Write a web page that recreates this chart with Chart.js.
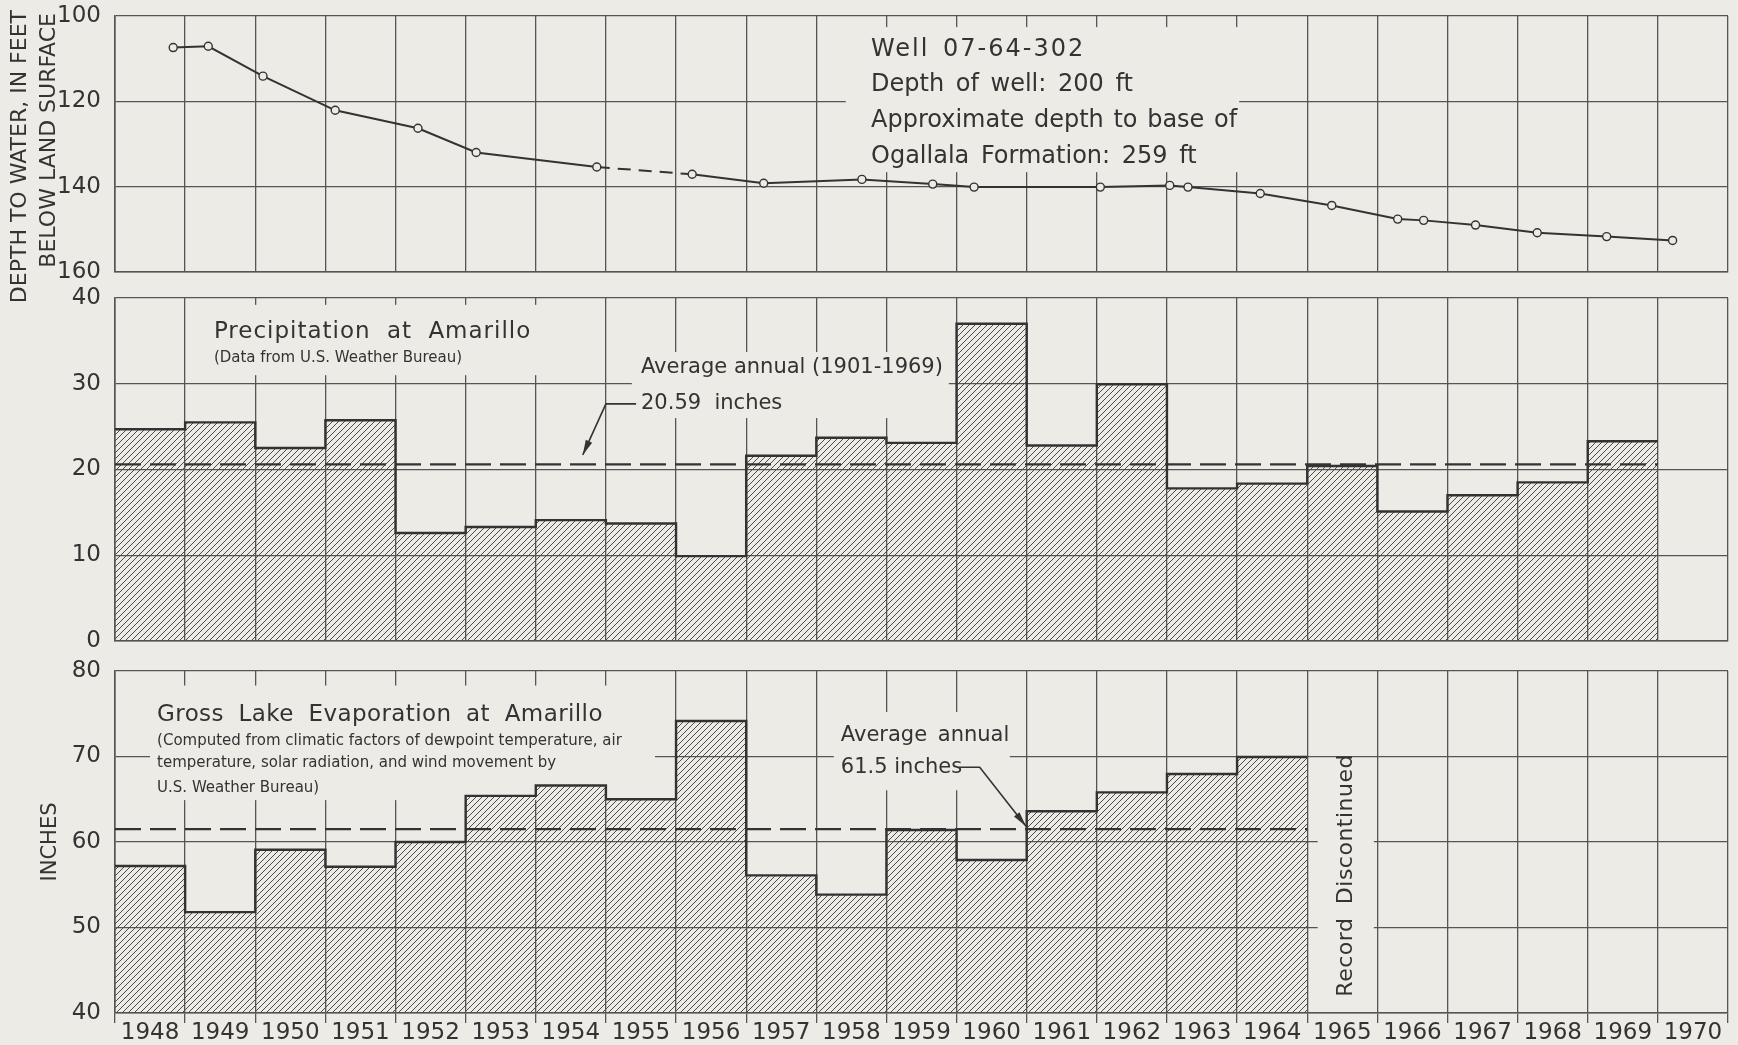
<!DOCTYPE html>
<html>
<head>
<meta charset="utf-8">
<script src="https://cdn.jsdelivr.net/npm/chart.js@4.4.1/dist/chart.umd.min.js"></script>
<style>
  html, body { margin: 0; padding: 0; background: #edebe6; }
  body { width: 1738px; height: 1045px; position: relative; overflow: hidden; }
  .panel { position: absolute; left: 0; width: 1738px; }
  #p1 { top: 0; height: 320px; }
  #p2 { top: 280px; height: 380px; }
  #p3 { top: 655px; height: 390px; }
</style>
</head>
<body>
<div class="panel" id="p1"><canvas id="wellChart"></canvas></div>
<div class="panel" id="p2"><canvas id="precipChart"></canvas></div>
<div class="panel" id="p3"><canvas id="evapChart"></canvas></div>
<script>
// --- data ---
const years = ['1948', '1949', '1950', '1951', '1952', '1953', '1954', '1955', '1956', '1957', '1958', '1959',
               '1960', '1961', '1962', '1963', '1964', '1965', '1966', '1967', '1968', '1969', '1970'];

// well 07-64-302 measurements (decimal year, depth in ft)
const wellYears = [1948.83, 1949.33, 1950.11, 1951.14, 1952.32, 1953.15, 1954.87, 1956.23, 1957.25, 1958.65,
                   1959.66, 1960.25, 1962.05, 1963.04, 1963.30, 1964.33, 1965.35, 1966.29, 1966.66, 1967.40,
                   1968.28, 1969.27, 1970.21];
const wellDepth = [107.4, 107.1, 114.1, 122.1, 126.3, 132.0, 135.4, 137.1, 139.2, 138.3,
                   139.4, 140.1, 140.1, 139.7, 140.1, 141.6, 144.4, 147.6, 147.9, 149.0,
                   150.8, 151.7, 152.6];
const wellDashedAfter = 6; // segment 1954 -> 1956 is dashed

// annual precipitation at Amarillo, inches
const precip = [24.7, 25.5, 22.5, 25.75, 12.6, 13.3, 14.1, 13.7, 9.9, 21.6, 23.7, 23.1,
                37.0, 22.8, 29.95, 17.8, 18.35, 20.4, 15.1, 17.0, 18.5, 23.3, null];
const precipAvg = 20.59;

// gross lake evaporation at Amarillo, inches
const evap = [57.2, 51.8, 59.1, 57.1, 60.0, 65.4, 66.6, 65.0, 74.15, 56.1, 53.85, 61.4,
              57.9, 63.6, 65.8, 67.95, 69.95, null, null, null, null, null, null];
const evapAvg = 61.5;

const wellTicks = [100, 120, 140, 160];
const precipTicks = [0, 10, 20, 30, 40];
const evapTicks = [40, 50, 60, 70, 80];

// --- styling ---
const PAPER = '#edebe6';
const INK = '#333333';
const GRID = '#555555';
const FONT = '"DejaVu Sans", sans-serif';

const firstYear = Number(years[0]);
const endYear = firstYear + years.length;

function makeHatch(color, size) {
    const c = document.createElement('canvas');
    c.width = size;
    c.height = size;
    const g = c.getContext('2d');
    g.strokeStyle = color;
    g.lineWidth = 1;
    g.beginPath();
    g.moveTo(0, size); g.lineTo(size, 0);
    g.moveTo(-1, 1); g.lineTo(1, -1);
    g.moveTo(size - 1, size + 1); g.lineTo(size + 1, size - 1);
    g.stroke();
    return g.createPattern(c, 'repeat');
}
const hatchFill = makeHatch('#4a4a4a', 6);

// outline of the bars as a stepped line (top edges + risers)
function stepOutline(vals) {
    const pts = [];
    let last = -1;
    vals.forEach((v, i) => {
        if (v !== null) { pts.push({ x: firstYear + i, y: v }); last = i; }
    });
    pts.push({ x: firstYear + last + 1, y: vals[last] });
    return pts;
}

function avgLine(vals, avg) {
    let last = -1;
    vals.forEach((v, i) => { if (v !== null) last = i; });
    return [{ x: firstYear, y: avg }, { x: firstYear + last + 1, y: avg }];
}

function scalesFor(yMin, yMax, ticks, reverse, showYears) {
    return {
        x: {
            type: 'category',
            offset: true,
            grid: { offset: true, color: GRID, lineWidth: 1.3, drawTicks: showYears, tickLength: 10, tickColor: GRID, tickWidth: 1.3 },
            border: { color: GRID, width: 1.6 },
            ticks: { display: showYears, color: INK, font: { family: FONT, size: 23, lineHeight: 1 }, padding: -1, maxRotation: 0, autoSkip: false },
            afterFit: s => {
                s.height = showYears ? 32 : 0;
                s.paddingLeft = 0; s.paddingRight = 0;
            }
        },
        xLin: {
            type: 'linear', axis: 'x', position: 'bottom', display: false,
            offset: false, grid: { offset: false }, bounds: 'data',
            min: firstYear, max: endYear
        },
        y: {
            min: yMin,
            max: yMax,
            reverse: reverse,
            grid: { color: GRID, lineWidth: 1.3, drawTicks: false },
            border: { color: GRID, width: 1.6 },
            ticks: { stepSize: ticks[1] - ticks[0], color: INK, font: { family: FONT, size: 23 }, padding: 14 },
            afterFit: s => {
                s.width = 115;
                s.paddingTop = 0; s.paddingBottom = 0;
            }
        }
    };
}

// text notes, paper boxes behind them and arrow leaders, all in axis units
function notesPlugin(spec) {
    return {
        id: 'notes',
        beforeDatasetsDraw(chart) {
            const { ctx } = chart;
            const X = v => chart.scales.xLin.getPixelForValue(v);
            const Y = v => chart.scales.y.getPixelForValue(v);
            ctx.save();
            ctx.fillStyle = PAPER;
            (spec.boxes || []).forEach(b => {
                const x0 = X(b[0]), x1 = X(b[1]), y0 = Y(b[2]), y1 = Y(b[3]);
                ctx.fillRect(Math.min(x0, x1), Math.min(y0, y1), Math.abs(x1 - x0), Math.abs(y1 - y0));
            });
            ctx.restore();
        },
        afterDatasetsDraw(chart) {
            const { ctx } = chart;
            const X = v => chart.scales.xLin.getPixelForValue(v);
            const Y = v => chart.scales.y.getPixelForValue(v);
            ctx.save();
            ctx.fillStyle = INK;
            (spec.texts || []).forEach(t => {
                ctx.save();
                ctx.font = `${t.size}px ${FONT}`;
                if ('letterSpacing' in ctx) ctx.letterSpacing = (t.ls || 0) + 'px';
                if ('wordSpacing' in ctx) ctx.wordSpacing = (t.ws || 0) + 'px';
                ctx.textBaseline = 'middle';
                ctx.textAlign = t.align || 'left';
                ctx.translate(X(t.x), Y(t.y));
                if (t.rotate) ctx.rotate(t.rotate);
                ctx.fillText(t.text, 0, 0);
                ctx.restore();
            });
            ctx.strokeStyle = INK;
            ctx.lineWidth = 1.6;
            (spec.leaders || []).forEach(pts => {
                const p = pts.map(q => [X(q[0]), Y(q[1])]);
                ctx.beginPath();
                p.forEach((q, i) => i ? ctx.lineTo(q[0], q[1]) : ctx.moveTo(q[0], q[1]));
                ctx.stroke();
                const [ax, ay] = p[p.length - 1];
                const [bx, by] = p[p.length - 2];
                const ang = Math.atan2(ay - by, ax - bx);
                ctx.beginPath();
                ctx.moveTo(ax, ay);
                ctx.lineTo(ax - 15 * Math.cos(ang) + 3.5 * Math.sin(ang), ay - 15 * Math.sin(ang) - 3.5 * Math.cos(ang));
                ctx.lineTo(ax - 15 * Math.cos(ang) - 3.5 * Math.sin(ang), ay - 15 * Math.sin(ang) + 3.5 * Math.cos(ang));
                ctx.closePath();
                ctx.fill();
            });
            ctx.restore();
        }
    };
}

// two-line rotated axis title for the well panel (pixels in the canvas)
const sideTitle = {
    id: 'sideTitle',
    afterDraw(chart) {
        const { ctx } = chart;
        ctx.save();
        ctx.font = `22px ${FONT}`;
        ctx.fillStyle = INK;
        ctx.textAlign = 'right';
        ctx.textBaseline = 'middle';
        [['DEPTH TO WATER, IN FEET', 20, 10], ['BELOW LAND SURFACE', 49, 13]].forEach(([txt, x, y]) => {
            ctx.save();
            ctx.translate(x, y);
            ctx.rotate(-Math.PI / 2);
            ctx.fillText(txt, 0, 0);
            ctx.restore();
        });
        ctx.restore();
    }
};

const baseOptions = {
    responsive: true,
    maintainAspectRatio: false,
    animation: false,
    events: [],
    plugins: { legend: { display: false }, tooltip: { enabled: false } }
};

function barSet(vals) {
    return { type: 'bar', data: vals, xAxisID: 'x', yAxisID: 'y', backgroundColor: hatchFill, borderWidth: 0,
             barPercentage: 1, categoryPercentage: 1, grouped: false, order: 3 };
}
function outlineSet(vals) {
    return { type: 'line', xAxisID: 'xLin', yAxisID: 'y', data: stepOutline(vals), stepped: 'before',
             borderColor: INK, borderWidth: 2.4, pointRadius: 0, fill: false, order: 2 };
}
function avgSet(vals, avg) {
    return { type: 'line', xAxisID: 'xLin', yAxisID: 'y', data: avgLine(vals, avg), borderColor: INK,
             borderWidth: 2.2, borderDash: [26, 9], pointRadius: 0, fill: false, order: 1 };
}

// --- 1. well hydrograph ---
new Chart(document.getElementById('wellChart'), {
    type: 'line',
    data: {
        labels: years,
        datasets: [{
            xAxisID: 'xLin',
            yAxisID: 'y',
            data: wellYears.map((x, i) => ({ x: x, y: wellDepth[i] })),
            borderColor: INK,
            borderWidth: 2,
            tension: 0,
            pointRadius: 4,
            pointBackgroundColor: PAPER,
            pointBorderColor: INK,
            pointBorderWidth: 1.4,
            segment: { borderDash: ctx => ctx.p0DataIndex === wellDashedAfter ? [13, 8] : undefined }
        }]
    },
    options: Object.assign({}, baseOptions, {
        layout: { padding: { top: 16, bottom: 48, left: 0, right: 10 } },
        scales: scalesFor(wellTicks[0], wellTicks[wellTicks.length - 1], wellTicks, true, false)
    }),
    plugins: [notesPlugin({
        boxes: [[1958.42, 1964.03, 102.6, 136.6]],
        texts: [
            { text: 'Well 07-64-302', x: 1958.78, y: 107.8, size: 24, ls: 2, ws: 4 },
            { text: 'Depth of well: 200 ft', x: 1958.78, y: 116.2, size: 24, ws: 4 },
            { text: 'Approximate depth to base of', x: 1958.78, y: 124.5, size: 24, ws: 2 },
            { text: 'Ogallala Formation: 259 ft', x: 1958.78, y: 133.1, size: 24, ws: 4 }
        ]
    }), sideTitle]
});

// --- 2. precipitation ---
new Chart(document.getElementById('precipChart'), {
    type: 'line',
    data: {
        labels: years,
        datasets: [barSet(precip), outlineSet(precip), avgSet(precip, precipAvg)]
    },
    options: Object.assign({}, baseOptions, {
        layout: { padding: { top: 18, bottom: 19, left: 0, right: 10 } },
        scales: scalesFor(precipTicks[0], precipTicks[precipTicks.length - 1], precipTicks, false, false)
    }),
    plugins: [notesPlugin({
        boxes: [[1949.28, 1954.06, 39.2, 31.0], [1955.37, 1959.89, 33.7, 26.0]],
        texts: [
            { text: 'Precipitation at Amarillo', x: 1949.41, y: 36.06, size: 23, ls: 1, ws: 8 },
            { text: '(Data from U.S. Weather Bureau)', x: 1949.41, y: 33.0, size: 15 },
            { text: 'Average annual (1901-1969)', x: 1955.5, y: 31.86, size: 21 },
            { text: '20.59  inches', x: 1955.5, y: 27.65, size: 21 }
        ],
        leaders: [[[1955.43, 27.65], [1955.0, 27.65], [1954.67, 21.7]]]
    })]
});

// --- 3. lake evaporation ---
const evapScales = scalesFor(evapTicks[0], evapTicks[evapTicks.length - 1], evapTicks, false, true);
evapScales.y.title = { display: true, text: 'INCHES', color: INK, font: { family: FONT, size: 21 }, padding: { top: 38, bottom: 0 } };

new Chart(document.getElementById('evapChart'), {
    type: 'line',
    data: {
        labels: years,
        datasets: [barSet(evap), outlineSet(evap), avgSet(evap, evapAvg)]
    },
    options: Object.assign({}, baseOptions, {
        layout: { padding: { top: 16, bottom: 0, left: 0, right: 10 } },
        scales: evapScales
    }),
    plugins: [notesPlugin({
        boxes: [[1948.5, 1955.7, 78.3, 64.9], [1958.25, 1960.76, 75.2, 66.05], [1965.15, 1965.95, 69.5, 41.5]],
        texts: [
            { text: 'Gross Lake Evaporation at Amarillo', x: 1948.6, y: 74.8, size: 23, ls: 0.4, ws: 7 },
            { text: '(Computed from climatic factors of dewpoint temperature, air', x: 1948.6, y: 71.8, size: 15 },
            { text: 'temperature, solar radiation, and wind movement by', x: 1948.6, y: 69.2, size: 15 },
            { text: 'U.S. Weather Bureau)', x: 1948.6, y: 66.3, size: 15 },
            { text: 'Average annual', x: 1958.35, y: 72.4, size: 21, ws: 4 },
            { text: '61.5 inches', x: 1958.35, y: 68.75, size: 21 },
            { text: 'Record Discontinued', x: 1965.55, y: 56.1, size: 22, align: 'center', rotate: -Math.PI / 2, ls: 0.5, ws: 6 }
        ],
        leaders: [[[1960.03, 68.75], [1960.33, 68.75], [1960.99, 61.85]]]
    })]
});
</script>
</body>
</html>
